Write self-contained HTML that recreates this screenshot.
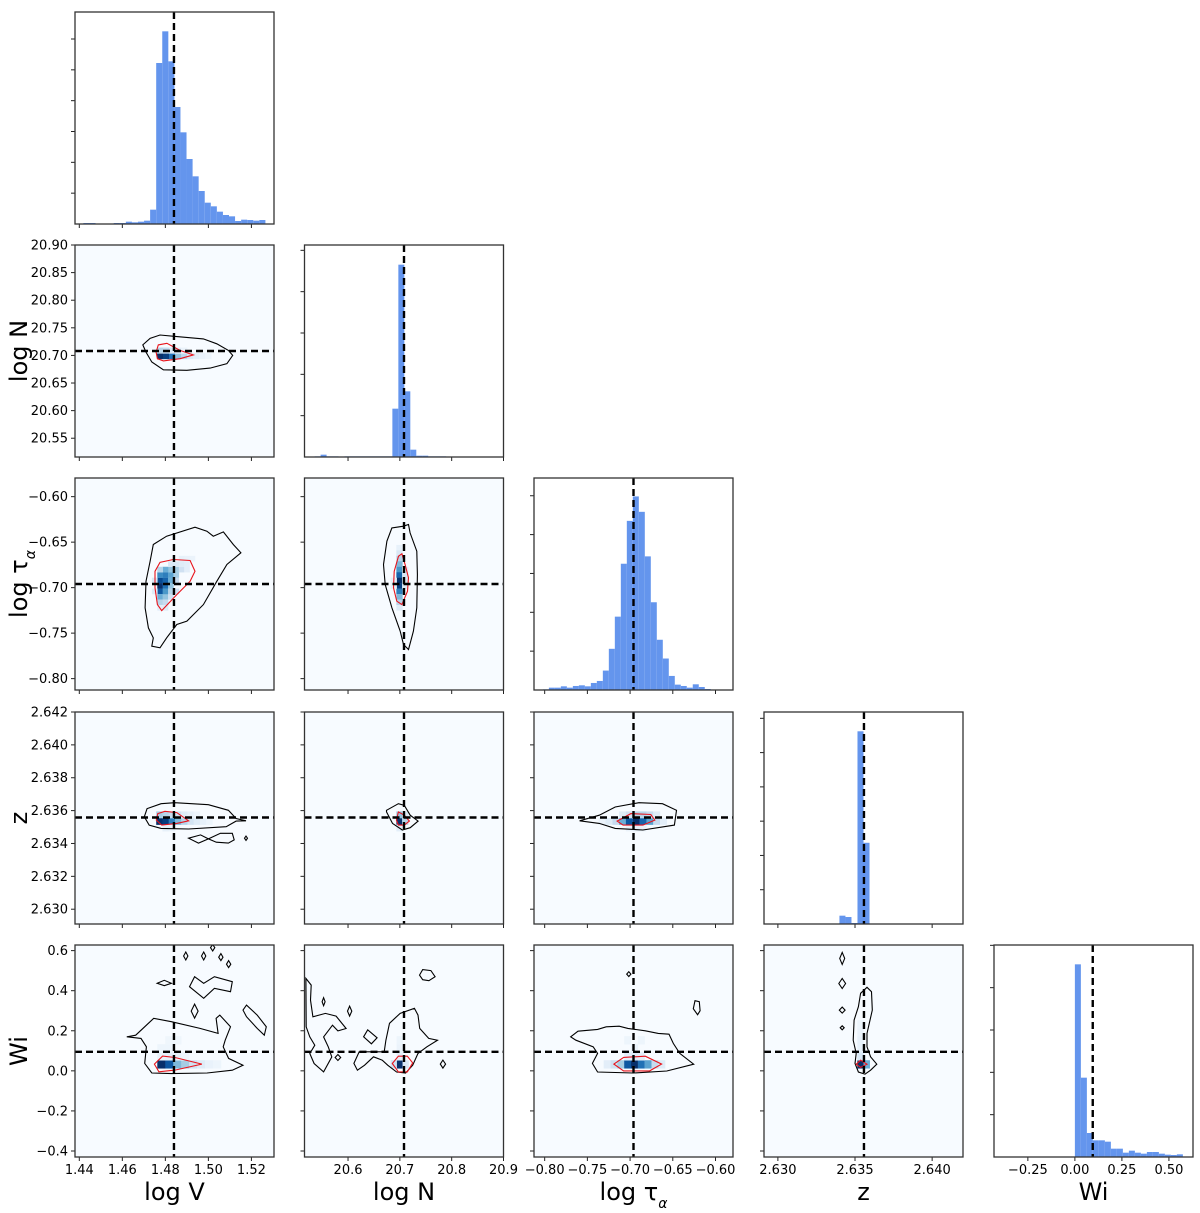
<!DOCTYPE html>
<html><head><meta charset="utf-8"><title>Corner plot</title>
<style>
html,body{margin:0;padding:0;background:#fff;}
svg{display:block;}
text{font-family:"DejaVu Sans","Liberation Sans",sans-serif;}
</style></head>
<body>
<svg id="chart" xmlns="http://www.w3.org/2000/svg" width="1200" height="1213" viewBox="0 0 1200 1213"></svg>
<script>
// ---------- data ----------
const paramNames = ["logV","logN","logTau","z","Wi"];
const rangeMin = [1.438, 20.516, -0.8125, 2.6291, -0.430];
const rangeMax = [1.5305, 20.900, -0.5795, 2.6420, 0.628];
const truths = [1.484, 20.708, -0.696, 2.63558, 0.095];
const xTicks0 = [1.44,1.46,1.48,1.50,1.52];
const xTicks1 = [20.6,20.7,20.8,20.9];
const xTicks2 = [-0.80,-0.75,-0.70,-0.65,-0.60];
const xTicks3 = [2.630,2.635,2.640];
const xTicks4 = [-0.25,0.00,0.25,0.50];
const xTickLabels0 = ["1.44","1.46","1.48","1.50","1.52"];
const xTickLabels1 = ["20.6","20.7","20.8","20.9"];
const xTickLabels2 = ["\u22120.80","\u22120.75","\u22120.70","\u22120.65","\u22120.60"];
const xTickLabels3 = ["2.630","2.635","2.640"];
const xTickLabels4 = ["\u22120.25","0.00","0.25","0.50"];
const yTicks1 = [20.55,20.60,20.65,20.70,20.75,20.80,20.85,20.90];
const yTicks2 = [-0.80,-0.75,-0.70,-0.65,-0.60];
const yTicks3 = [2.630,2.632,2.634,2.636,2.638,2.640,2.642];
const yTicks4 = [-0.4,-0.2,0.0,0.2,0.4,0.6];
const yTickLabels1 = ["20.55","20.60","20.65","20.70","20.75","20.80","20.85","20.90"];
const yTickLabels2 = ["\u22120.80","\u22120.75","\u22120.70","\u22120.65","\u22120.60"];
const yTickLabels3 = ["2.630","2.632","2.634","2.636","2.638","2.640","2.642"];
const yTickLabels4 = ["\u22120.4","\u22120.2","0.0","0.2","0.4","0.6"];

// histograms: bin start, bin width, counts
const hist0Start = 1.4419, hist0Width = 0.00282;
const hist0Counts = [3,3,0,0,0,3,3,7,5,7,10,43,483,578,488,351,275,195,143,99,64,53,37,27,23,9,13,12,10,12];
const hist1Start = 20.524, hist1Width = 0.01154;
const hist1Counts = [1,2,7,2,2,1,2,2,2,2,2,2,2,2,145,577,197,22,4,4,2,2,2,1,0,0,0,0,0,0,0,0,0];
const hist2Start = -0.8021, hist2Width = 0.00702;
const hist2Counts = [2,7,7,11,7,12,14,11,21,27,58,123,219,377,505,578,532,399,262,150,94,42,16,12,7,17,9,3,0,1];
const hist3Start = 2.6336, hist3Width = 0.00039;
const hist3Counts = [1,25,21,3,579,244,0,0,0,1];
const hist4Start = 0.0, hist4Width = 0.0319;
const hist4Counts = [578,238,72,50,50,46,25,25,13,19,13,10,15,15,10,7,6,8];
const histMax = [636,636,633,637,636];
const histTickStep = [92.5,124,116,103,127];

// 2D panels: heat cells [x, y, weight], contour polygons [[x,y],...]
const cells10 = [[1.4775,20.699,1],[1.4803,20.699,0.95],[1.4831,20.699,0.75],[1.4859,20.699,0.4],[1.4887,20.699,0.28],[1.4915,20.699,0.15],[1.4943,20.699,0.1],[1.4971,20.699,0.07],[1.4999,20.699,0.05],[1.4775,20.709,0.3],[1.4803,20.709,0.25],[1.4831,20.709,0.15],[1.4859,20.709,0.1],[1.4887,20.709,0.06]];
const black10 = [[[1.4695,20.719],[1.4729,20.731],[1.4775,20.737],[1.4853,20.734],[1.4977,20.730],[1.5039,20.721],[1.5093,20.709],[1.5113,20.700],[1.5086,20.685],[1.5008,20.677],[1.4900,20.673],[1.4791,20.674],[1.4737,20.688],[1.4710,20.706]]];
const red10 = [[[1.4757,20.706],[1.4767,20.719],[1.4807,20.722],[1.4868,20.709],[1.4930,20.701],[1.4868,20.694],[1.4791,20.690],[1.4763,20.694]]];

const cells20 = [[1.4775,-0.692,0.9],[1.4775,-0.698,1],[1.4775,-0.704,0.85],[1.4800,-0.692,0.8],[1.4800,-0.698,0.75],[1.4800,-0.686,0.7],[1.4775,-0.686,0.65],[1.4825,-0.686,0.55],[1.4825,-0.692,0.5],[1.4825,-0.680,0.4],[1.4850,-0.680,0.35],[1.4850,-0.686,0.35],[1.4800,-0.680,0.5],[1.4775,-0.680,0.3],[1.4775,-0.710,0.5],[1.4800,-0.710,0.4],[1.4800,-0.704,0.6],[1.4825,-0.698,0.4],[1.4775,-0.716,0.3],[1.4800,-0.716,0.25],[1.4875,-0.680,0.2],[1.4875,-0.674,0.12],[1.4850,-0.674,0.15],[1.4825,-0.674,0.15],[1.4900,-0.674,0.1],[1.4925,-0.668,0.06],[1.4900,-0.668,0.07],[1.4875,-0.668,0.08],[1.4850,-0.704,0.2],[1.4825,-0.710,0.2],[1.4800,-0.722,0.12],[1.4775,-0.722,0.1],[1.4750,-0.692,0.15],[1.4750,-0.704,0.12],[1.4900,-0.680,0.1],[1.4850,-0.692,0.25],[1.4825,-0.704,0.3]];
const black20 = [[[1.4744,-0.6526],[1.4806,-0.6435],[1.4938,-0.6336],[1.4993,-0.6380],[1.5023,-0.6435],[1.5070,-0.6387],[1.5116,-0.6526],[1.5151,-0.6617],[1.5086,-0.6746],[1.5039,-0.6930],[1.4977,-0.7186],[1.4900,-0.7369],[1.4853,-0.7405],[1.4806,-0.7552],[1.4775,-0.7661],[1.4737,-0.7644],[1.4744,-0.7552],[1.4721,-0.7442],[1.4706,-0.7222],[1.4710,-0.6930],[1.4729,-0.6710]]];
const red20 = [[[1.4752,-0.6820],[1.4775,-0.6721],[1.4837,-0.6691],[1.4915,-0.6702],[1.4938,-0.6820],[1.4915,-0.6930],[1.4853,-0.7076],[1.4783,-0.7252],[1.4763,-0.7186],[1.4752,-0.7002]]];

const cells21 = [[20.699,-0.656,0.08],[20.699,-0.662,0.15],[20.699,-0.668,0.3],[20.699,-0.674,0.45],[20.699,-0.680,0.6],[20.699,-0.686,0.8],[20.699,-0.692,1],[20.699,-0.698,0.95],[20.699,-0.704,0.7],[20.699,-0.710,0.45],[20.699,-0.716,0.3],[20.699,-0.722,0.12],[20.710,-0.680,0.1],[20.710,-0.686,0.15],[20.710,-0.692,0.15],[20.710,-0.698,0.12],[20.688,-0.692,0.08],[20.688,-0.698,0.08]];
const black21 = [[[20.6847,-0.6343],[20.7070,-0.6325],[20.7166,-0.6306],[20.7198,-0.6398],[20.7327,-0.6600],[20.7339,-0.6856],[20.7327,-0.7222],[20.7262,-0.7479],[20.7166,-0.7680],[20.7070,-0.7625],[20.7006,-0.7479],[20.6847,-0.7222],[20.6718,-0.6966],[20.6685,-0.6746],[20.6750,-0.6490]]];
const red21 = [[[20.6973,-0.6655],[20.7039,-0.6628],[20.7102,-0.6746],[20.7166,-0.6892],[20.7147,-0.7039],[20.7039,-0.7186],[20.6942,-0.7149],[20.6877,-0.7002],[20.6891,-0.6820]]];

const cells30 = [[1.4772,2.63535,1],[1.4801,2.63535,0.95],[1.4830,2.63535,0.7],[1.4859,2.63535,0.45],[1.4888,2.63535,0.3],[1.4917,2.63535,0.18],[1.4946,2.63535,0.12],[1.4975,2.63535,0.08],[1.5004,2.63535,0.05],[1.4772,2.63575,0.35],[1.4801,2.63575,0.3],[1.4830,2.63575,0.25],[1.4859,2.63575,0.2],[1.4888,2.63575,0.12],[1.4917,2.63575,0.08],[1.4946,2.63575,0.05],[1.4801,2.63495,0.08],[1.4830,2.63495,0.06]];
const black30 = [[[1.4715,2.63612],[1.4780,2.63642],[1.4844,2.63648],[1.5000,2.63636],[1.5093,2.63602],[1.5129,2.63552],[1.5175,2.63538],[1.5129,2.63536],[1.5083,2.63502],[1.4908,2.63488],[1.4780,2.63492],[1.4725,2.63512],[1.4702,2.63562]],
  [[1.4908,2.63432],[1.4964,2.63452],[1.5000,2.63428],[1.5056,2.63462],[1.5111,2.63462],[1.5120,2.63422],[1.5093,2.63402],[1.5037,2.63408],[1.5000,2.63428],[1.4954,2.63402]],
  [[1.5168,2.63432],[1.5175,2.63445],[1.5182,2.63432],[1.5175,2.63419]]];
const red30 = [[[1.4765,2.63582],[1.4798,2.63596],[1.4853,2.63588],[1.4908,2.63538],[1.4853,2.63522],[1.4783,2.63512],[1.4758,2.63542]]];

const cells31 = [[20.699,2.63535,1],[20.699,2.63575,0.4],[20.710,2.63535,0.3],[20.699,2.63495,0.1],[20.710,2.63575,0.15]];
const black31 = [[[20.6743,2.63602],[20.6972,2.63642],[20.7085,2.63632],[20.7200,2.63572],[20.7352,2.63536],[20.7200,2.63496],[20.7047,2.63482],[20.6858,2.63522],[20.6743,2.63592]]];
const red31 = [[[20.6933,2.63542],[20.6972,2.63592],[20.7085,2.63572],[20.7185,2.63536],[20.7085,2.63512],[20.6972,2.63512]]];

const cells32 = [[-0.717,2.63535,0.25],[-0.709,2.63535,0.5],[-0.701,2.63535,0.85],[-0.693,2.63535,1],[-0.685,2.63535,0.8],[-0.677,2.63535,0.55],[-0.669,2.63535,0.25],[-0.661,2.63535,0.1],[-0.725,2.63535,0.12],[-0.733,2.63535,0.06],[-0.709,2.63575,0.12],[-0.701,2.63575,0.2],[-0.693,2.63575,0.3],[-0.685,2.63575,0.3],[-0.677,2.63575,0.25],[-0.669,2.63575,0.12],[-0.701,2.63495,0.06],[-0.693,2.63495,0.08],[-0.685,2.63495,0.06]];
const black32 = [[[-0.7591,2.63538],[-0.7360,2.63572],[-0.7174,2.63622],[-0.6897,2.63648],[-0.6620,2.63642],[-0.6457,2.63602],[-0.6481,2.63512],[-0.6850,2.63482],[-0.7174,2.63492],[-0.7360,2.63522]]];
const red32 = [[[-0.7152,2.63536],[-0.6990,2.63582],[-0.6758,2.63576],[-0.6711,2.63542],[-0.6850,2.63512],[-0.7082,2.63512]]];

const cells40 = [[1.4781,0.033,1],[1.4818,0.033,0.85],[1.4855,0.033,0.45],[1.4892,0.033,0.35],[1.4929,0.033,0.2],[1.4966,0.033,0.12],[1.5003,0.033,0.07],[1.5040,0.033,0.05],[1.4781,0.073,0.08],[1.4818,0.073,0.1],[1.4855,0.073,0.08],[1.4892,0.073,0.05],[1.4781,0.113,0.05],[1.4818,0.113,0.05],[1.4855,0.153,0.04],[1.4818,0.153,0.04]];
const black40 = [[[1.4621,0.170],[1.4662,0.178],[1.4712,0.228],[1.4746,0.262],[1.4828,0.245],[1.4961,0.212],[1.5045,0.187],[1.5036,0.262],[1.5053,0.278],[1.5103,0.220],[1.5078,0.153],[1.5069,0.120],[1.5094,0.062],[1.5161,0.028],[1.5111,0.003],[1.4994,-0.011],[1.4828,-0.014],[1.4737,-0.011],[1.4704,0.037],[1.4712,0.120],[1.4687,0.162]],
  [[1.4912,0.420],[1.4936,0.470],[1.4978,0.437],[1.5028,0.470],[1.5111,0.445],[1.5103,0.395],[1.5028,0.412],[1.4978,0.362]],
  [[1.5161,0.303],[1.5177,0.328],[1.5227,0.278],[1.5269,0.220],[1.5260,0.178],[1.5227,0.212],[1.5177,0.270]],
  [[1.4762,0.437],[1.4795,0.452],[1.4828,0.437],[1.4795,0.425]],
  [[1.4920,0.298],[1.4936,0.333],[1.4952,0.298],[1.4936,0.263]],
  [[1.4885,0.573],[1.4895,0.593],[1.4905,0.573],[1.4895,0.553]],
  [[1.4968,0.573],[1.4978,0.593],[1.4988,0.573],[1.4978,0.553]],
  [[1.5010,0.615],[1.5020,0.630],[1.5030,0.615],[1.5020,0.598]],
  [[1.5048,0.567],[1.5058,0.585],[1.5068,0.567],[1.5058,0.550]],
  [[1.5084,0.532],[1.5094,0.550],[1.5104,0.532],[1.5094,0.515]]];
const red40 = [[[1.4749,0.0335],[1.4787,0.0735],[1.4845,0.0665],[1.4970,0.0335],[1.4845,0.0035],[1.4770,-0.005]]];

const cells41 = [[20.6995,0.033,1],[20.688,0.033,0.2],[20.711,0.033,0.15],[20.6995,0.073,0.1],[20.6995,0.113,0.06],[20.6995,0.153,0.05]];
const black41 = [[[20.6731,0.153],[20.6800,0.237],[20.7006,0.287],[20.7281,0.312],[20.7350,0.278],[20.7383,0.212],[20.7556,0.162],[20.7727,0.153],[20.7522,0.120],[20.7350,0.087],[20.7247,0.028],[20.7110,-0.011],[20.6937,-0.006],[20.6766,0.028],[20.6662,0.053],[20.6491,0.070],[20.6320,0.028],[20.6181,0.003],[20.6114,0.037],[20.6216,0.095],[20.6456,0.095],[20.6697,0.095]],
  [[20.5187,0.4615],[20.5289,0.428],[20.5275,0.353],[20.5323,0.2695],[20.5564,0.2865],[20.5770,0.273],[20.5962,0.2115],[20.5804,0.1995],[20.5700,0.228],[20.5529,0.1695],[20.5620,0.1195],[20.5687,0.0695],[20.5529,-0.0055],[20.5345,0.0365],[20.5262,0.0865],[20.5358,0.128],[20.5262,0.1695],[20.5193,0.2195]],
  [[20.5500,0.345],[20.5529,0.365],[20.5558,0.345],[20.5529,0.325]],
  [[20.5990,0.298],[20.6031,0.323],[20.6072,0.298],[20.6031,0.273]],
  [[20.5750,0.0665],[20.5804,0.0815],[20.5858,0.0665],[20.5804,0.0515]],
  [[20.6300,0.170],[20.6380,0.205],[20.6560,0.165],[20.6450,0.135]],
  [[20.7380,0.478],[20.7440,0.505],[20.7600,0.500],[20.7680,0.470],[20.7560,0.450],[20.7440,0.455]],
  [[20.7780,0.0335],[20.7831,0.0535],[20.7882,0.0335],[20.7831,0.0135]]];
const red41 = [[[20.6854,0.0365],[20.6972,0.073],[20.7143,0.073],[20.7247,0.0395],[20.7143,-0.0055],[20.6972,-0.0055]]];

const cells42 = [[-0.727,0.033,0.1],[-0.719,0.033,0.2],[-0.711,0.033,0.35],[-0.703,0.033,0.85],[-0.695,0.033,1],[-0.687,0.033,0.75],[-0.679,0.033,0.55],[-0.671,0.033,0.25],[-0.663,0.033,0.12],[-0.703,0.073,0.1],[-0.695,0.073,0.12],[-0.687,0.073,0.1],[-0.695,0.113,0.06],[-0.703,0.153,0.05],[-0.687,0.153,0.05]];
const black42 = [[[-0.7695,0.170],[-0.7610,0.198],[-0.7380,0.207],[-0.7280,0.220],[-0.7128,0.223],[-0.7026,0.212],[-0.6822,0.200],[-0.6670,0.187],[-0.6544,0.183],[-0.6494,0.137],[-0.6418,0.087],[-0.6255,0.033],[-0.6570,-0.001],[-0.6965,-0.011],[-0.7380,-0.006],[-0.7441,0.037],[-0.7380,0.087],[-0.7432,0.120],[-0.7634,0.153]],
  [[-0.7040,0.483],[-0.7015,0.495],[-0.6990,0.483],[-0.7015,0.471]],
  [[-0.6260,0.310],[-0.6240,0.350],[-0.6190,0.345],[-0.6180,0.300],[-0.6210,0.280]]];
const red42 = [[[-0.7189,0.0335],[-0.7076,0.067],[-0.6822,0.073],[-0.6631,0.0335],[-0.6772,-0.0005],[-0.7076,-0.0005]]];

const cells43 = [[2.63535,0.033,1],[2.63575,0.033,0.5],[2.63535,0.073,0.15],[2.63535,0.113,0.08],[2.63535,0.153,0.08],[2.63535,0.193,0.06],[2.63535,0.233,0.05]];
const black43 = [[[2.63536,0.387],[2.63578,0.417],[2.63607,0.395],[2.63612,0.303],[2.63578,0.187],[2.63578,0.120],[2.63601,0.070],[2.63641,0.033],[2.63601,0.003],[2.63565,-0.017],[2.63522,-0.006],[2.63500,0.037],[2.63508,0.087],[2.63488,0.153],[2.63494,0.253],[2.63522,0.320]],
  [[2.63401,0.561],[2.63417,0.591],[2.63433,0.561],[2.63417,0.531]],
  [[2.63395,0.436],[2.63417,0.461],[2.63439,0.436],[2.63417,0.411]],
  [[2.63398,0.303],[2.63417,0.318],[2.63436,0.303],[2.63417,0.288]],
  [[2.63404,0.215],[2.63417,0.225],[2.63430,0.215],[2.63417,0.205]]];
const red43 = [[[2.63508,0.033],[2.63536,0.053],[2.63578,0.033],[2.63536,0.017]]];

// ---------- layout ----------
const colLeft = [75,304.5,534,764,994];
const rowTop = [12,245,478,712,945];
const W = 199, H = 212;
const NS = "http://www.w3.org/2000/svg";
const svg = document.getElementById("chart");

function sx(c, v){ return colLeft[c] + (v-rangeMin[c])/(rangeMax[c]-rangeMin[c])*W; }
function sy(r, v){ return rowTop[r] + H - (v-rangeMin[r])/(rangeMax[r]-rangeMin[r])*H; }
function hy(r, count){ return rowTop[r] + H - count/histMax[r]*H; }

function mk(tag, attrs, parent){
  const e = document.createElementNS(NS, tag);
  for (const k in attrs) e.setAttribute(k, attrs[k]);
  (parent||svg).appendChild(e);
  return e;
}
const blues = [[247,251,255],[222,235,247],[198,219,239],[158,202,225],[107,174,214],[66,146,198],[33,113,181],[8,81,156],[8,48,107]];
function blueColor(w){
  const t = Math.max(0,Math.min(1,w))*(blues.length-1);
  const i = Math.min(blues.length-2, Math.floor(t)), f = t-i;
  const c = blues[i].map((v,k)=>Math.round(v+(blues[i+1][k]-v)*f));
  return "rgb("+c.join(",")+")";
}

const xTicksAll = [xTicks0,xTicks1,xTicks2,xTicks3,xTicks4];
const xLabelsAll = [xTickLabels0,xTickLabels1,xTickLabels2,xTickLabels3,xTickLabels4];
const yTicksAll = [null,yTicks1,yTicks2,yTicks3,yTicks4];
const yLabelsAll = [null,yTickLabels1,yTickLabels2,yTickLabels3,yTickLabels4];
const hists = [[hist0Start,hist0Width,hist0Counts],[hist1Start,hist1Width,hist1Counts],[hist2Start,hist2Width,hist2Counts],[hist3Start,hist3Width,hist3Counts],[hist4Start,hist4Width,hist4Counts]];
const cellSizes = {"10":[0.0028,0.0105],"20":[0.0025,0.0059],"21":[0.0115,0.0059],"30":[0.0029,0.0004],"31":[0.0115,0.0004],"32":[0.0078,0.0004],"40":[0.0037,0.04],"41":[0.0115,0.04],"42":[0.0078,0.04],"43":[0.0004,0.04]};
const panelData = {"10":[cells10,black10,red10],"20":[cells20,black20,red20],"21":[cells21,black21,red21],"30":[cells30,black30,red30],"31":[cells31,black31,red31],"32":[cells32,black32,red32],"40":[cells40,black40,red40],"41":[cells41,black41,red41],"42":[cells42,black42,red42],"43":[cells43,black43,red43]};

function polyPath(r,c,pts){
  return pts.map((p,i)=>(i?"L":"M")+sx(c,p[0]).toFixed(1)+","+sy(r,p[1]).toFixed(1)).join(" ")+" Z";
}
function dashedV(g,x,y0,y1){ const l=mk("line",{x1:x,x2:x,y1:y0,y2:y1,stroke:"#000","stroke-width":2.4,"stroke-dasharray":"7,4"},g);   }
function dashedH(g,y,x0,x1){ const l=mk("line",{x1:x0,x2:x1,y1:y,y2:y,stroke:"#000","stroke-width":2.4,"stroke-dasharray":"7,4"},g);   }

for (let r=0;r<5;r++){
  for (let c=0;c<=r;c++){
    const g = mk("g",{});
    
    
    const x0 = colLeft[c], y0 = rowTop[r];
    const clipId = "clip"+r+c;
    const cp = mk("clipPath",{id:clipId},g); mk("rect",{x:x0,y:y0,width:W,height:H},cp);
    const inner = mk("g",{"clip-path":"url(#"+clipId+")"},g);
    if (r===c){
      const [st,wd,cnt] = hists[c];
      cnt.forEach((n,i)=>{
        if (n<=0) return;
        const xa = sx(c, st+i*wd), xb = sx(c, st+(i+1)*wd);
        const b = mk("rect",{x:xa.toFixed(2),y:hy(r,n).toFixed(2),width:(xb-xa).toFixed(2),height:(y0+H-hy(r,n)).toFixed(2),fill:"#6495ed"},inner);
        
        
      });
      dashedV(inner, sx(c,truths[c]), y0, y0+H);
      for (let k=1;k*histTickStep[r]<histMax[r];k++){
        const ty = hy(r,k*histTickStep[r]);
        mk("line",{x1:x0-4,x2:x0,y1:ty,y2:ty,stroke:"#222","stroke-width":1},g);
      }
    } else {
      mk("rect",{x:x0,y:y0,width:W,height:H,fill:"#f7fbff"},inner);
      const key = ""+r+c;
      const [cells,blk,red] = panelData[key];
      const [cw,ch] = cellSizes[key];
      cells.forEach(cl=>{
        const xa = sx(c,cl[0]-cw/2), xb = sx(c,cl[0]+cw/2);
        const ya = sy(r,cl[1]+ch/2), yb = sy(r,cl[1]-ch/2);
        const e = mk("rect",{x:xa.toFixed(2),y:ya.toFixed(2),width:(xb-xa+0.3).toFixed(2),height:(yb-ya+0.3).toFixed(2),fill:blueColor(cl[2])},inner);
        
        
      });
      blk.forEach(p=>{
        const e = mk("path",{d:polyPath(r,c,p),fill:"none",stroke:"#000","stroke-width":1.1},inner);
        
        
      });
      red.forEach(p=>{
        const e = mk("path",{d:polyPath(r,c,p),fill:"none",stroke:"#e8141c","stroke-width":1.1},inner);
        
        
      });
      dashedV(inner, sx(c,truths[c]), y0, y0+H);
      dashedH(inner, sy(r,truths[r]), x0, x0+W);
      yTicksAll[r].forEach((v,i)=>{
        const ty = sy(r,v);
        mk("line",{x1:x0-4,x2:x0,y1:ty,y2:ty,stroke:"#222","stroke-width":1},g);
        if (c===0){
          const t = mk("text",{x:x0-7,y:ty+4.5,"text-anchor":"end","font-size":"13"},g);
          t.textContent = yLabelsAll[r][i];
          
          
        }
      });
    }
    xTicksAll[c].forEach((v,i)=>{
      const tx = sx(c,v);
      mk("line",{x1:tx,x2:tx,y1:y0+H,y2:y0+H+4,stroke:"#222","stroke-width":1},g);
      if (r===4){
        const t = mk("text",{x:tx,y:y0+H+17,"text-anchor":"middle","font-size":"13"},g);
        t.textContent = xLabelsAll[c][i];
        
        
      }
    });
    mk("rect",{x:x0,y:y0,width:W,height:H,fill:"none",stroke:"#333","stroke-width":1.3},g);
  }
}

function axisTitle(x,y,rot,parts,name){
  const t = mk("text",{x:x,y:y,"text-anchor":"middle","font-size":"24",transform:rot?"rotate(-90 "+x+" "+y+")":""});
  parts.forEach(p=>{
    const s = mk("tspan", p.sub?{"baseline-shift":"sub","font-size":"14","font-style":"italic"}:{}, t);
    s.textContent = p.t;
  });
  
  
}
const logLabelV=[{t:"log V"}], logLabelN=[{t:"log N"}], tauLabel=[{t:"log \u03C4"},{t:"\u03B1",sub:true}], zLabel=[{t:"z"}], wiLabel=[{t:"Wi"}];
const xLabelParts=[logLabelV,logLabelN,tauLabel,zLabel,wiLabel];
const names=["x-axis-title-logV","x-axis-title-logN","x-axis-title-logtau","x-axis-title-z","x-axis-title-Wi"];
for (let c=0;c<5;c++) axisTitle(colLeft[c]+W/2, 1200, false, xLabelParts[c], names[c]);
const yNames=["","y-axis-title-logN","y-axis-title-logtau","y-axis-title-z","y-axis-title-Wi"];
for (let r=1;r<5;r++) axisTitle(27, rowTop[r]+H/2, true, xLabelParts[r], yNames[r]);
</script>
</body></html>
